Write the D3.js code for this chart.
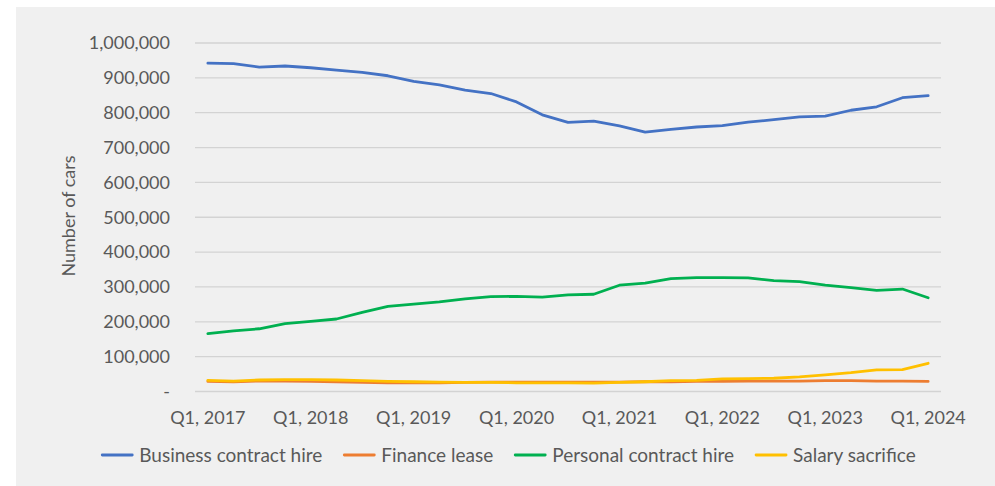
<!DOCTYPE html>
<html>
<head>
<meta charset="utf-8">
<script src="https://cdn.jsdelivr.net/npm/d3@7"></script>
<style>
  body { margin: 0; background: #fff; }
  svg text { font-family: Lato, "Open Sans", sans-serif; fill: #595959; }
</style>
</head>
<body>
<svg id="chart" width="995" height="486"></svg>
<script>
// quarterly figures, thousands of cars
const quarters = d3.range(29).map(i => `Q${(i % 4) + 1}, ${2017 + Math.floor(i / 4)}`)
const businessContractHire = [942, 941, 931, 934, 929, 922, 916, 906, 890, 880, 865, 855, 831, 794, 772, 776, 762, 744, 752, 759, 763, 773, 780, 788, 790, 807, 817, 843, 849]
const financeLease = [29, 28, 30, 30, 29, 28, 26, 25, 25, 25, 26, 27, 27, 27, 27, 27, 27, 28, 28, 29, 29, 30, 30, 30, 31, 31, 30, 30, 29]
const personalContractHire = [166, 174, 180, 195, 201, 208, 227, 244, 251, 257, 266, 272, 273, 271, 277, 279, 305, 311, 324, 327, 327, 326, 318, 315, 305, 298, 290, 294, 269]
const salarySacrifice = [32, 30, 33, 34, 34, 33, 31, 29, 28, 27, 26, 26, 25, 25, 25, 24, 26, 28, 31, 32, 36, 37, 38, 42, 48, 54, 62, 63, 81]
const yTicks = [0, 100000, 200000, 300000, 400000, 500000, 600000, 700000, 800000, 900000, 1000000]

const series = [
  { name: 'Business contract hire', values: businessContractHire, color: '#4472C4' },
  { name: 'Finance lease', values: financeLease, color: '#ED7D31' },
  { name: 'Personal contract hire', values: personalContractHire, color: '#00B050' },
  { name: 'Salary sacrifice', values: salarySacrifice, color: '#FFC000' }
]

const svg = d3.select('#chart')
svg.append('rect').attr('x', 16).attr('y', 7).attr('width', 979).attr('height', 479).attr('fill', '#f0f0f0')

const margin = { left: 195, right: 941, top: 43, bottom: 391.5 }
const x = d3.scalePoint().domain(quarters).range([margin.left, margin.right]).padding(0.5)
const y = d3.scaleLinear().domain([0, 1000000]).range([margin.bottom, margin.top])

// gridlines
svg.append('g').selectAll('line').data(yTicks).join('line')
  .attr('x1', margin.left).attr('x2', margin.right)
  .attr('y1', d => y(d)).attr('y2', d => y(d))
  .attr('stroke', '#d3d3d3').attr('stroke-width', 1.3)

// y axis labels
const fmt = d3.format(',')
svg.append('g').selectAll('text').data(yTicks).join('text')
  .attr('x', 170).attr('y', d => y(d)).attr('dy', '0.35em')
  .attr('text-anchor', 'end').attr('font-size', 18)
  .text(d => d === 0 ? '-' : fmt(d))

svg.append('text')
  .attr('transform', 'translate(75, 216) rotate(-90)')
  .attr('text-anchor', 'middle').attr('font-size', 18)
  .text('Number of cars')

// x axis labels, one per year
svg.append('g').selectAll('text').data(quarters.filter((d, i) => i % 4 === 0)).join('text')
  .attr('x', d => x(d)).attr('y', 418).attr('dy', '0.35em')
  .attr('text-anchor', 'middle').attr('font-size', 18)
  .text(d => d)

const line = d3.line().x((d, i) => x(quarters[i])).y(d => y(d * 1000))
svg.append('g').selectAll('path').data(series).join('path')
  .attr('d', d => line(d.values))
  .attr('fill', 'none').attr('stroke', d => d.color)
  .attr('stroke-width', 2.8).attr('stroke-linejoin', 'round').attr('stroke-linecap', 'round')

// legend
const legend = svg.append('g')
let lx = 0
series.forEach(s => {
  const item = legend.append('g').attr('transform', `translate(${lx}, 0)`)
  item.append('line').attr('x1', 0).attr('x2', 30).attr('y1', 0).attr('y2', 0)
    .attr('stroke', s.color).attr('stroke-width', 2.8).attr('stroke-linecap', 'round')
  const t = item.append('text').attr('x', 37).attr('dy', '0.35em').attr('font-size', 19).text(s.name)
  lx += 37 + t.node().getComputedTextLength() + 22
})
lx -= 22
legend.attr('transform', `translate(${509 - lx / 2}, 455)`)
</script>
</body>
</html>
